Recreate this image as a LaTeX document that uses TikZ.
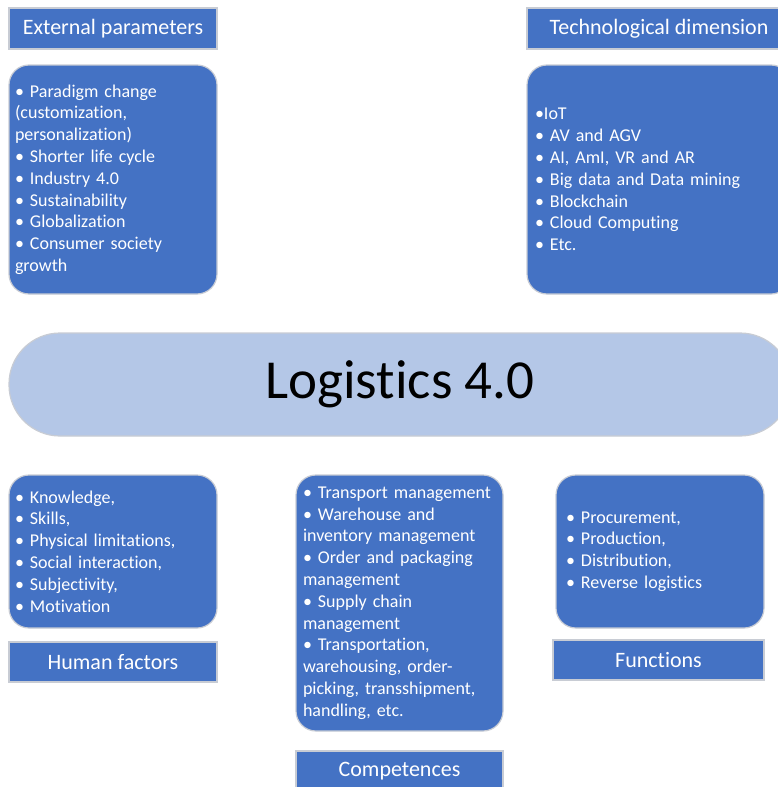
\documentclass[tikz,border=0pt]{standalone}
\usepackage{fontspec}
\setmainfont{Carlito}[Ligatures=NoCommon]
\definecolor{hblue}{HTML}{4472C4}
\definecolor{lblue}{HTML}{B4C7E7}
\definecolor{edgegray}{HTML}{C8CCD4}
\begin{document}
\begin{tikzpicture}[x=1pt,y=-1pt,
  header/.style={draw=edgegray,line width=1.2pt,fill=hblue,text=white,
    font=\fontsize{22}{26}\selectfont,inner sep=0pt},
  listbox/.style={draw=edgegray,line width=1.2pt,fill=hblue,text=white,
    rounded corners=20pt,font=\fontsize{18}{21.8}\selectfont,align=left,
    inner ysep=0pt}]
\clip (0,0) rectangle (778,787);
\fill[white] (0,0) rectangle (778,787);

% top row
\node[header,minimum width=208pt,minimum height=41pt] (exth) at (113,28.5) {External parameters};
\node[listbox,inner xsep=6pt,text width=196pt,minimum height=229pt] (extb) at (113,179.5)
  {• Paradigm change\\(customization,\\personalization)\\• Shorter life cycle\\• Industry 4.0\\• Sustainability\\• Globalization\\• Consumer society\\growth};

\node[header,minimum width=264pt,minimum height=41pt] (tech) at (659,28.5) {Technological dimension};
\node[listbox,inner xsep=8pt,text width=248pt,minimum height=229pt] (techb) at (659,179.5)
  {•IoT\\• AV and AGV\\• AI, AmI, VR and AR\\• Big data and Data mining\\• Blockchain\\• Cloud Computing\\• Etc.};

% center
\node[draw=edgegray,line width=1.2pt,fill=lblue,rounded corners=51pt,
  minimum width=782pt,minimum height=103pt,inner sep=0pt,
  font=\fontsize{55}{60}\selectfont] (log) at (400,384.5) {Logistics 4.0};

% bottom row
\node[listbox,inner xsep=6pt,text width=196pt,minimum height=153pt] (humb) at (113,551.5)
  {• Knowledge,\\• Skills,\\• Physical limitations,\\• Social interaction,\\• Subjectivity,\\• Motivation};
\node[header,minimum width=208pt,minimum height=40pt] (humh) at (113,662) {Human factors};

\node[listbox,inner xsep=7pt,text width=193pt,minimum height=256pt] (comb) at (399.5,603)
  {• Transport management\\• Warehouse and\\inventory management\\• Order and packaging\\management\\• Supply chain\\management\\• Transportation,\\warehousing, order-\\picking, transshipment,\\handling, etc.};
\node[header,minimum width=207pt,minimum height=41pt] (comh) at (399.5,771.5) {Competences};

\node[listbox,inner xsep=10pt,text width=188pt,minimum height=153pt] (funb) at (660,551.5)
  {• Procurement,\\• Production,\\• Distribution,\\• Reverse logistics};
\node[header,minimum width=211pt,minimum height=40pt] (funh) at (658.5,660) {Functions};
\end{tikzpicture}
\end{document}
